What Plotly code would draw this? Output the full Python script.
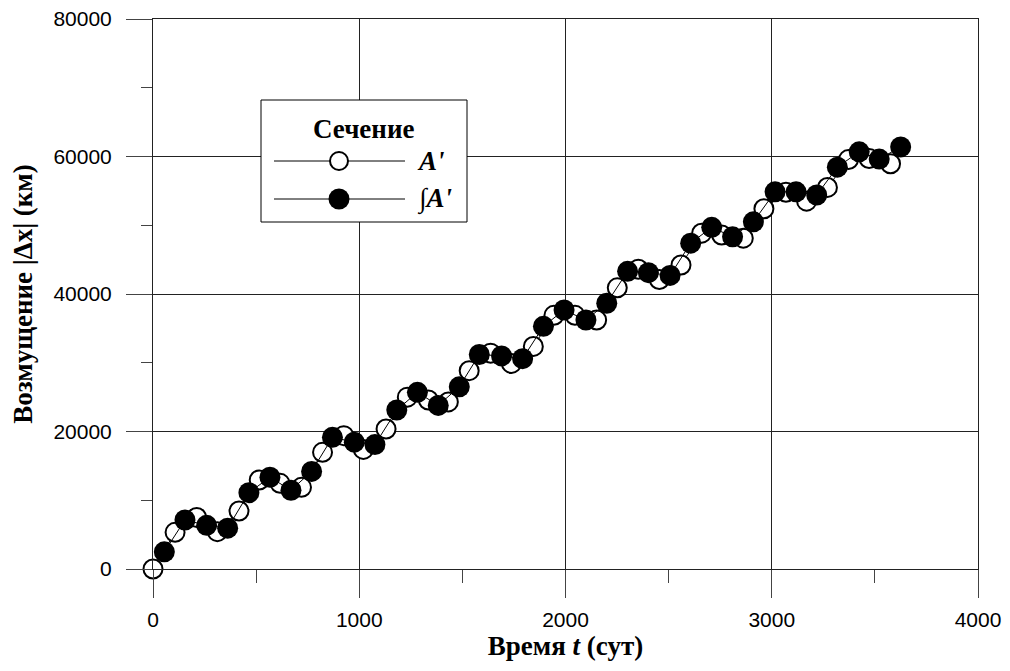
import plotly.graph_objects as go

# Section A' (open circles)
t_open = [0, 107, 212, 312, 417, 515, 616, 720, 822, 925, 1020, 1130, 1233, 1335, 1432,
          1533, 1637, 1738, 1844, 1944, 2046, 2151, 2251, 2353, 2455, 2560, 2660, 2757,
          2862, 2962, 3069, 3169, 3270, 3372, 3472, 3576]
y_open = [0, 5330, 7500, 5430, 8440, 12950, 12460, 11880, 16970, 19400, 17400, 20360,
          25000, 24580, 24300, 28850, 31400, 29900, 32380, 36900, 36900, 36220, 40900,
          43600, 42100, 44220, 48850, 48580, 48120, 52400, 54800, 53500, 55500, 59550,
          59700, 58950]

# Section ∫A' (filled circles)
t_fill = [55, 155, 260, 362, 465, 567, 669, 769, 870, 976, 1076, 1182, 1282, 1383, 1485,
          1582, 1690, 1792, 1893, 1993, 2099, 2200, 2301, 2402, 2507, 2607, 2709, 2810,
          2911, 3016, 3118, 3218, 3318, 3424, 3521, 3625]
y_fill = [2500, 7130, 6350, 5940, 11100, 13350, 11450, 14200, 19150, 18450, 18100, 23130,
          25700, 23800, 26500, 31200, 31000, 30600, 35300, 37670, 36220, 38660, 43300,
          43100, 42700, 47400, 49700, 48320, 50500, 54860, 54860, 54400, 58450, 60680,
          59620, 61400]

x_ticks = [0, 1000, 2000, 3000, 4000]
y_ticks = [0, 20000, 40000, 60000, 80000]

fig = go.Figure()
fig.add_trace(go.Scatter(
    x=t_open, y=y_open, mode="lines+markers", name="A'", cliponaxis=False,
    line=dict(color="black", width=1),
    marker=dict(symbol="circle", size=19, color="white", line=dict(color="black", width=2)),
    showlegend=False))
fig.add_trace(go.Scatter(
    x=t_fill, y=y_fill, mode="lines+markers", name="∫A'", cliponaxis=False,
    line=dict(color="black", width=1),
    marker=dict(symbol="circle", size=21, color="black", line=dict(color="black", width=0)),
    showlegend=False))

W, H = 1010, 671
L, R, T, B = 153, 32, 19, 102
PW, PH = W - L - R, H - T - B

def px(x):
    return (x - L) / PW

def py(y):
    return (H - B - y) / PH

tick_font = dict(family="Liberation Sans, Arial, sans-serif", size=21, color="black")
title_font = dict(family="Liberation Serif, Times New Roman, serif", size=27, color="black")

fig.update_xaxes(
    range=[0, 4000], tickvals=x_ticks, ticktext=[str(v) for v in x_ticks],
    showgrid=True, gridcolor="#222", gridwidth=1,
    showline=True, linecolor="#222", linewidth=1, mirror=True,
    ticks="outside", ticklen=28, tickcolor="#444", tickwidth=1,
    minor=dict(ticks="outside", ticklen=13, dtick=500, tick0=0, tickcolor="#444", showgrid=False),
    tickfont=tick_font, ticklabelstandoff=4, zeroline=False,
    title=dict(text="<b>Время <i>t</i> (сут)</b>", font=title_font, standoff=2),
)
fig.update_yaxes(
    range=[0, 80000], tickvals=y_ticks, ticktext=[str(v) for v in y_ticks],
    showgrid=True, gridcolor="#222", gridwidth=1,
    showline=True, linecolor="#222", linewidth=1, mirror=True,
    ticks="outside", ticklen=26, tickcolor="#444", tickwidth=1,
    minor=dict(ticks="outside", ticklen=11, dtick=10000, tick0=0, tickcolor="#444", showgrid=False),
    tickfont=tick_font, ticklabelstandoff=10, zeroline=False,
    title=dict(text="<b>Возмущение |Δx| (км)</b>", font=title_font, standoff=12),
)

# manual legend
shapes = [
    dict(type="rect", xref="paper", yref="paper", x0=px(261), x1=px(467), y0=py(222), y1=py(100),
         line=dict(color="black", width=1), fillcolor="white", layer="above"),
    dict(type="line", xref="paper", yref="paper", x0=px(274), x1=px(405), y0=py(161), y1=py(161),
         line=dict(color="black", width=1), layer="above"),
    dict(type="line", xref="paper", yref="paper", x0=px(274), x1=px(405), y0=py(199), y1=py(199),
         line=dict(color="black", width=1), layer="above"),
    dict(type="circle", xref="paper", yref="paper", xsizemode="pixel", ysizemode="pixel",
         xanchor=px(339), yanchor=py(161), x0=-9, x1=9, y0=-9, y1=9,
         line=dict(color="black", width=2), fillcolor="white", layer="above"),
    dict(type="circle", xref="paper", yref="paper", xsizemode="pixel", ysizemode="pixel",
         xanchor=px(339), yanchor=py(199), x0=-10.5, x1=10.5, y0=-10.5, y1=10.5,
         line=dict(color="black", width=0), fillcolor="black", layer="above"),
]
annotations = [
    dict(text="<b>Сечение</b>", xref="paper", yref="paper", x=px(363), y=py(129),
         xanchor="center", yanchor="middle", showarrow=False, font=title_font),
    dict(text="<b><i>A'</i></b>", xref="paper", yref="paper", x=px(415), y=py(161),
         xanchor="left", yanchor="middle", showarrow=False, font=title_font),
    dict(text="<b><i>∫A'</i></b>", xref="paper", yref="paper", x=px(415), y=py(199),
         xanchor="left", yanchor="middle", showarrow=False, font=title_font),
]

fig.update_layout(
    width=W, height=H,
    margin=dict(l=L, r=R, t=T, b=B, autoexpand=False),
    paper_bgcolor="white", plot_bgcolor="white",
    shapes=shapes, annotations=annotations, showlegend=False,
)

fig.write_html("out.html")
